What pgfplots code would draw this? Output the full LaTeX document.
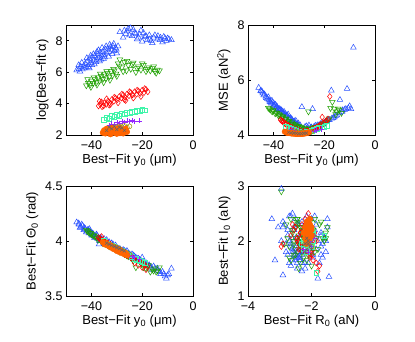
\documentclass[border=0pt]{standalone}
\usepackage{fontspec}
\setmainfont{Liberation Sans}
\usepackage{pgfplots}
\usepackage{pgfplotstable}
\pgfplotsset{compat=1.18}
\definecolor{cB}{RGB}{40,80,255}
\definecolor{cG}{RGB}{30,160,0}
\definecolor{cR}{RGB}{255,0,0}
\definecolor{cC}{RGB}{64,245,170}
\definecolor{cP}{RGB}{150,40,255}
\definecolor{cO}{RGB}{150,150,0}
\definecolor{cN}{RGB}{255,100,0}
\definecolor{cK}{RGB}{100,100,100}
% columns: y0, log alpha, MSE, Theta0, R0, I0
\pgfplotstableread{
y0 la mse th R I
-45.8 6.12 5.72 4.17 -2.90 2.25
-44.9 6.20 5.62 4.15 -3.15 1.65
-44.2 6.35 5.52 4.13 -2.70 2.45
-43.5 6.18 5.48 4.14 -2.95 2.95
-43.0 6.42 5.40 4.10 -2.90 1.38
-42.4 6.55 5.32 4.11 -2.50 2.05
-42.0 6.30 5.38 4.08 -2.85 2.30
-41.5 6.70 5.22 4.10 -2.55 1.75
-41.0 6.48 5.18 4.07 -3.25 2.40
-40.6 6.85 5.25 4.09 -2.65 1.95
-40.0 6.60 5.08 4.06 -2.75 2.20
-39.5 6.95 5.12 4.07 -2.45 1.60
-39.0 6.75 4.98 4.05 -2.35 2.10
-38.5 7.05 5.02 4.04 -2.60 1.85
-38.0 6.80 4.90 4.06 -2.30 2.35
-37.5 7.15 4.95 4.02 -2.50 1.70
-37.0 6.90 4.82 3.97 -2.70 2.00
-36.5 7.25 4.85 4.03 -2.20 1.50
-36.0 7.00 4.75 4.01 -2.45 1.80
-35.5 7.30 4.78 4.00 -2.55 2.25
-35.0 7.10 4.68 4.02 -2.35 1.65
-34.5 7.45 4.70 3.98 -2.40 1.90
-34.0 7.20 4.62 4.01 -2.30 2.15
-33.5 7.50 4.60 3.97 -2.50 1.75
-33.0 7.30 4.55 3.99 -2.20 1.85
-32.5 7.60 4.52 3.96 -2.60 2.05
-32.0 7.40 4.48 3.98 -2.45 1.70
-31.5 7.65 4.45 3.97 -2.35 1.95
-31.0 7.35 4.40 3.95 -2.25 1.80
-30.5 7.55 4.38 3.96 -2.50 1.65
-36.8 6.70 4.90 4.00 -2.65 1.55
-38.8 6.50 5.05 4.03 -2.90 2.35
-34.8 6.95 4.72 3.99 -2.15 2.20
-40.8 6.25 5.15 4.11 -2.80 1.80
-37.8 7.30 4.92 4.05 -2.40 2.30
-30.0 7.20 4.32 3.94 -2.30 1.75
-45.0 6.45 5.60 4.16 -2.75 2.10
-44.5 6.05 5.58 4.12 -2.60 1.80
-43.8 6.60 5.45 4.15 -3.05 2.25
-42.8 6.25 5.35 4.12 -2.70 1.60
-41.8 6.90 5.28 4.09 -2.45 2.30
-41.2 6.35 5.20 4.10 -2.95 2.00
-40.3 7.05 5.18 4.08 -2.55 1.85
-39.8 6.45 5.05 4.05 -2.65 2.45
-39.2 7.15 5.10 4.06 -2.40 1.70
-38.2 6.65 4.95 4.04 -2.80 1.95
-37.2 7.40 4.90 4.03 -2.35 2.05
-36.2 6.80 4.80 4.02 -2.60 1.65
-35.8 7.55 4.85 4.01 -2.50 2.40
-35.2 6.85 4.70 3.99 -2.75 1.75
-34.2 7.65 4.75 3.98 -2.40 1.80
-33.2 7.00 4.62 3.98 -2.55 2.20
-32.8 7.75 4.58 3.97 -2.30 1.60
-31.8 7.15 4.50 3.96 -2.65 1.90
-31.2 7.80 4.52 3.95 -2.40 1.70
-30.2 7.45 4.42 3.94 -2.55 1.80
-29.5 7.65 4.36 3.93 -2.45 1.95
-28.8 8.55 5.02 3.93 -2.10 2.35
-27.5 8.20 4.30 3.92 -2.00 2.40
-26.5 8.45 4.28 3.90 -2.20 1.60
-25.5 8.75 4.25 3.89 -1.90 2.20
-24.6 8.80 4.95 3.87 -2.30 1.45
-24.0 8.30 4.30 3.88 -2.05 2.00
-23.0 8.50 4.32 3.86 -1.85 1.85
-22.0 8.10 4.35 3.84 -2.15 2.45
-21.0 8.40 4.40 3.83 -1.70 2.15
-20.0 7.95 4.45 3.85 -1.95 1.70
-19.0 8.25 4.50 3.80 -2.20 2.30
-18.0 8.05 4.55 3.79 -1.60 2.05
-17.2 8.35 5.62 3.78 -1.50 2.40
-16.5 8.00 4.62 3.76 -1.80 1.32
-15.5 8.20 4.70 3.77 -1.55 2.00
-14.0 8.10 4.80 3.75 -1.75 1.60
-13.8 8.30 5.28 3.73 -1.90 2.10
-12.0 7.90 4.92 3.72 -1.65 1.95
-11.0 8.15 5.68 3.68 -2.60 2.50
-10.5 8.00 4.98 3.66 -1.60 2.05
-9.5 8.10 4.95 3.70 -1.50 2.25
-8.5 8.05 7.18 3.75 -1.45 1.35
-26.0 8.60 4.35 3.91 -2.35 1.70
-20.5 8.65 4.38 3.82 -2.10 1.60
-16.0 7.85 4.65 3.74 -2.45 1.50
-12.8 8.20 4.90 3.70 -1.70 1.90
-27.0 8.65 4.32 3.91 -2.25 2.20
-25.0 8.35 4.28 3.88 -1.95 1.75
-23.5 8.70 4.34 3.87 -2.10 2.30
-22.5 8.45 4.36 3.85 -1.80 2.00
-21.5 8.20 4.40 3.84 -2.30 1.80
-19.5 8.50 4.48 3.81 -1.90 2.45
-18.5 8.30 4.55 3.80 -1.70 1.75
-17.0 8.10 4.60 3.77 -2.00 2.20
-15.0 8.35 4.72 3.75 -1.65 1.70
-13.0 8.05 4.85 3.72 -1.85 2.30
-11.5 8.25 4.95 3.70 -1.55 1.80
-10.0 8.15 5.05 3.69 -1.70 2.10
}\tblB
\pgfplotstableread{
y0 la mse th R I
-42.0 5.15 4.98 4.10 -2.80 2.30
-41.2 5.30 4.92 4.08 -2.70 1.90
-40.5 5.20 4.85 4.07 -2.95 2.90
-40.0 5.45 4.90 4.06 -2.60 2.20
-39.3 5.30 4.78 4.05 -2.55 1.75
-38.6 5.55 4.80 4.04 -2.75 2.05
-38.0 5.35 4.70 4.03 -2.45 2.35
-37.4 5.65 4.72 4.01 -2.50 1.85
-36.8 5.45 4.62 4.02 -2.40 2.10
-36.2 5.75 4.65 4.00 -2.65 1.65
-35.5 5.55 4.55 3.98 -2.35 2.25
-35.0 5.85 4.58 4.00 -2.55 1.95
-34.3 5.60 4.48 3.97 -2.30 1.80
-33.7 5.95 4.50 3.98 -2.45 2.30
-33.0 5.70 4.42 3.95 -2.60 2.15
-32.3 6.05 4.40 3.96 -2.25 1.70
-31.7 5.80 4.35 3.94 -2.40 2.00
-31.0 6.10 4.33 3.95 -2.35 1.90
-30.3 5.90 4.30 3.92 -2.50 2.05
-29.5 6.55 4.28 3.92 -2.30 2.25
-28.8 6.80 4.25 3.90 -2.20 1.85
-28.0 6.30 4.22 3.91 -2.45 2.40
-27.0 6.65 4.20 3.88 -2.15 2.10
-26.2 6.10 4.85 3.87 -2.35 1.60
-25.5 6.45 4.22 3.86 -2.05 2.35
-24.5 6.20 4.25 3.85 -2.25 1.95
-23.5 6.60 4.28 3.82 -1.95 2.20
-22.5 6.00 4.30 3.76 -2.10 1.75
-21.5 6.35 4.35 3.83 -1.85 2.05
-20.5 6.15 4.40 3.80 -2.00 1.55
-19.5 6.45 4.48 3.76 -1.75 2.30
-18.5 6.05 4.55 3.75 -2.15 1.65
-17.5 6.30 4.98 3.78 -1.60 2.00
-16.8 6.10 5.20 3.72 -1.55 2.15
-16.0 6.25 4.95 3.74 -1.50 2.25
-15.0 6.05 4.85 3.75 -1.90 1.80
-14.0 6.15 4.90 3.73 -1.65 2.05
-13.2 6.10 4.80 3.76 -2.40 1.50
-41.5 5.55 4.95 4.09 -2.65 2.40
-40.2 5.05 4.88 4.07 -2.85 1.95
-39.0 5.65 4.82 4.05 -2.50 2.25
-37.8 5.20 4.75 4.03 -2.70 1.70
-36.5 5.90 4.68 4.01 -2.55 2.00
-35.2 5.35 4.60 3.99 -2.45 2.40
-34.0 6.05 4.52 3.98 -2.35 2.05
-32.7 5.50 4.45 3.96 -2.50 1.75
-31.3 6.20 4.38 3.94 -2.30 2.20
-30.0 5.75 4.32 3.93 -2.40 1.95
-29.0 6.40 4.30 3.92 -2.25 2.05
-27.5 6.05 4.25 3.89 -2.10 1.90
-26.0 6.70 4.22 3.87 -2.30 2.15
-24.0 6.50 4.28 3.84 -2.00 1.80
-22.0 6.25 4.32 3.83 -1.90 2.40
-20.0 6.55 4.42 3.79 -2.05 2.00
-18.0 6.20 4.60 3.76 -1.80 1.85
-15.5 6.35 4.75 3.73 -1.70 2.35
-14.5 5.95 4.95 3.72 -1.55 2.05
}\tblG
\pgfplotstableread{
y0 la mse th R I
-37.2 3.85 4.55 4.03 -2.95 1.90
-36.5 3.95 4.50 4.02 -2.90 1.95
-35.8 3.80 4.42 4.01 -2.55 2.20
-35.0 4.05 4.40 4.00 -2.45 2.05
-34.2 3.95 4.32 3.99 -2.35 2.15
-33.5 4.15 4.30 3.98 -2.50 2.25
-32.8 4.05 4.25 3.97 -2.40 1.95
-32.0 4.25 4.22 3.96 -2.30 2.10
-31.2 4.15 4.18 3.95 -2.20 2.30
-30.5 4.35 4.16 3.94 -2.35 1.85
-29.8 4.25 4.15 3.93 -2.45 2.00
-29.0 4.45 4.12 3.92 -2.25 2.20
-28.2 4.35 4.12 3.90 -2.15 2.35
-27.5 4.55 4.12 3.89 -2.30 1.90
-26.8 4.40 4.14 3.88 -2.10 2.05
-26.0 4.60 4.15 3.87 -2.05 2.40
-25.2 4.50 4.18 3.86 -2.20 1.80
-24.5 4.70 4.20 3.85 -1.95 2.15
-23.8 4.55 4.25 3.84 -2.00 1.75
-23.0 4.75 4.28 3.80 -1.90 2.00
-22.2 4.60 4.32 3.82 -2.05 1.70
-21.5 4.80 4.38 3.78 -1.85 1.60
-20.8 4.65 4.65 3.81 -1.95 1.85
-20.0 4.85 4.45 3.76 -1.80 1.45
-19.3 4.70 4.50 3.79 -1.75 1.55
-18.5 4.90 4.58 3.74 -1.90 2.15
-17.8 4.75 5.40 3.77 -2.05 1.75
-36.0 4.10 4.48 4.04 -2.60 2.30
-33.0 3.90 4.28 3.96 -2.20 2.40
-27.0 4.25 4.10 3.88 -2.10 2.50
-36.8 4.15 4.52 4.02 -2.65 2.10
-35.2 3.85 4.40 4.00 -2.40 1.85
-34.0 4.30 4.35 3.99 -2.30 2.30
-32.5 3.95 4.26 3.97 -2.45 2.05
-31.0 4.40 4.20 3.95 -2.15 1.95
-29.5 4.05 4.15 3.93 -2.35 2.15
-28.0 4.60 4.12 3.91 -2.20 2.05
-26.5 4.20 4.14 3.88 -2.00 1.95
-25.0 4.75 4.18 3.86 -2.15 2.25
-23.5 4.35 4.24 3.84 -1.95 1.90
-22.0 4.85 4.32 3.82 -2.10 1.80
-20.5 4.45 4.42 3.80 -1.85 2.00
-19.0 4.95 4.52 3.78 -1.95 1.65
}\tblR
\pgfplotstableread{
y0 la mse th R I
-35.0 2.98 4.30 4.00 -2.25 2.00
-34.0 3.10 4.25 3.98 -2.15 2.10
-33.0 3.05 4.22 3.97 -2.30 1.95
-32.0 3.20 4.18 3.96 -2.10 2.05
-31.0 3.15 4.15 3.95 -2.20 2.15
-30.0 3.28 4.12 3.93 -2.05 1.90
-29.0 3.25 4.10 3.92 -2.15 2.25
-28.0 3.35 4.10 3.91 -1.95 2.00
-27.0 3.32 4.12 3.89 -2.25 1.85
-26.0 3.42 4.12 3.88 -2.00 2.20
-25.0 3.40 4.15 3.87 -1.60 2.10
-24.0 3.50 4.18 3.86 -2.10 1.95
-23.0 3.48 4.22 3.84 -1.85 1.42
-22.0 3.55 4.25 3.83 -2.05 2.05
-21.0 3.52 4.28 3.82 -2.15 1.80
-20.0 3.60 4.30 3.81 -1.95 2.15
-19.0 3.58 4.35 3.80 -2.00 1.90
}\tblC
\pgfplotstableread{
y0 la mse th R I
-33.0 2.62 4.20 3.97 -2.20 1.95
-32.0 2.70 4.18 3.96 -2.10 2.05
-31.0 2.68 4.15 3.95 -2.25 1.85
-30.0 2.78 4.12 3.94 -2.05 2.00
-29.0 2.75 4.10 3.93 -2.15 2.10
-28.0 2.85 4.08 3.91 -2.00 1.90
-27.0 2.82 4.08 3.89 -2.20 2.15
-26.0 2.90 4.10 3.88 -2.10 1.80
-25.0 2.88 4.12 3.87 -1.95 2.05
-24.0 2.92 4.15 3.86 -2.05 1.95
-23.0 2.85 4.18 3.85 -2.15 2.00
-21.0 2.90 4.22 3.83 -1.90 2.10
}\tblP
\pgfplotstableread{
y0 la mse th R I
-32.0 2.40 4.15 3.96 -2.15 2.00
-31.0 2.50 4.12 3.95 -2.05 2.10
-30.0 2.45 4.10 3.94 -2.20 1.95
-29.0 2.55 4.08 3.93 -2.10 2.05
-28.0 2.50 4.08 3.91 -2.00 1.90
-27.0 2.58 4.08 3.90 -2.15 2.15
-26.0 2.48 4.10 3.89 -2.05 2.00
-25.0 2.55 4.12 3.88 -1.95 2.10
}\tblO
\pgfplotstableread{
y0 la mse th R I
-35.5 2.15 4.12 3.99 -2.20 2.05
-35.0 2.30 4.10 3.98 -2.15 2.20
-34.5 2.10 4.08 3.97 -2.10 2.30
-34.0 2.40 4.08 3.98 -2.05 2.10
-33.5 2.20 4.07 3.96 -2.20 2.25
-33.0 2.35 4.06 3.95 -2.15 2.00
-32.5 2.05 4.06 3.96 -2.10 2.15
-32.0 2.45 4.05 3.94 -2.00 2.25
-31.5 2.25 4.05 3.93 -2.15 2.35
-31.0 2.15 4.04 3.94 -2.10 2.10
-30.5 2.38 4.04 3.92 -2.05 2.05
-30.0 2.08 4.04 3.91 -2.20 2.15
-29.5 2.30 4.04 3.92 -2.10 2.20
-29.0 2.45 4.04 3.90 -2.05 2.30
-28.5 2.18 4.05 3.91 -2.15 1.95
-28.0 2.35 4.05 3.89 -2.00 2.10
-27.5 2.10 4.06 3.90 -2.10 2.25
-27.0 2.28 4.07 3.88 -2.15 2.00
-26.5 2.40 4.08 3.89 -2.05 2.15
-26.0 2.20 4.10 3.87 -2.10 2.05
-34.8 2.25 4.09 3.97 -2.25 2.15
-32.8 2.15 4.06 3.95 -2.05 2.40
-30.8 2.30 4.04 3.93 -2.15 2.28
-28.8 2.12 4.04 3.92 -2.00 2.20
}\tblN
\pgfplotstableread{
y0 la mse th R I
-34.0 2.30 4.10 3.98 -2.20 1.95
-33.0 2.50 4.08 3.97 -2.15 1.85
-32.0 2.40 4.07 3.96 -2.10 2.00
-31.0 2.55 4.06 3.95 -2.20 1.80
-30.0 2.35 4.05 3.94 -2.05 1.90
-29.0 2.50 4.05 3.93 -2.15 2.05
-28.0 2.45 4.06 3.92 -2.10 1.95
-27.0 2.30 4.07 3.91 -2.00 1.85
}\tblK
\pgfplotsset{
  panel/.style={scale only axis, width=127pt, height=110pt, anchor=south west,
    axis line style={line width=0.5pt}, tick align=inside, tick pos=both,
    major tick length=3pt, tick style={line width=0.5pt, black},
    tick label style={font=\fontsize{12.5}{14}\selectfont},
    label style={font=\fontsize{13}{15}\selectfont},
    xticklabel style={yshift=-2.5pt},
    xlabel style={yshift=3pt},
    clip=true},
  y0ax/.style={xmin=-50, xmax=0, xtick={-40,-20,0}, xticklabels={−40,−20,0},
    xlabel={Best−Fit y\textsubscript{0} (μm)}},
  sB/.style={only marks, mark=triangle, mark size=3.3pt, cB, mark options={line width=0.5pt}},
  sG/.style={only marks, mark=triangle, mark size=3.3pt, cG, mark options={rotate=180, line width=0.5pt}},
  sR/.style={only marks, mark=diamond, mark size=3pt, cR, mark options={line width=0.5pt}},
  sC/.style={only marks, mark=square, mark size=2.4pt, cC, mark options={line width=0.5pt}},
  sP/.style={only marks, mark=+, mark size=2.6pt, cP, mark options={line width=0.5pt}},
  sO/.style={only marks, mark=o, mark size=2.4pt, cO, mark options={line width=0.5pt}},
  sN/.style={only marks, mark=*, mark size=2.8pt, cN, mark options={line width=0.5pt, fill=cN}},
  sK/.style={only marks, mark=x, mark size=2.2pt, cK, mark options={line width=0.5pt}},
}
\newcommand{\allseries}[2]{%
  \addplot[sB] table[x=#1,y=#2]{\tblB};
  \addplot[sG] table[x=#1,y=#2]{\tblG};
  \addplot[sR] table[x=#1,y=#2]{\tblR};
  \addplot[sC] table[x=#1,y=#2]{\tblC};
  \addplot[sP] table[x=#1,y=#2]{\tblP};
  \addplot[sO] table[x=#1,y=#2]{\tblO};
  \addplot[sN] table[x=#1,y=#2]{\tblN};
  \addplot[sK] table[x=#1,y=#2]{\tblK};
}
\begin{document}
\begin{tikzpicture}[x=1pt,y=1pt]
\useasboundingbox (0,0) rectangle (415,341);
\begin{axis}[panel, y0ax, at={(66pt,206pt)},
  ymin=2, ymax=9, ytick={2,4,6,8}, yticklabels={2,4,6,8},
  ylabel={log(Best−fit α)}]
\allseries{y0}{la}
\end{axis}
\begin{axis}[panel, y0ax, at={(248pt,206pt)},
  ymin=4, ymax=8, ytick={4,6,8}, yticklabels={4,6,8},
  ylabel={MSE (aN\textsuperscript{2})}]
\allseries{y0}{mse}
\end{axis}
\begin{axis}[panel, y0ax, at={(66pt,45pt)},
  ymin=3.5, ymax=4.5, ytick={3.5,4,4.5}, yticklabels={3.5,4,4.5},
  ylabel={Best−Fit Θ\textsubscript{0} (rad)}]
\allseries{y0}{th}
\end{axis}
\begin{axis}[panel, at={(248pt,45pt)},
  xmin=-4, xmax=0, xtick={-4,-2,0}, xticklabels={−4,−2,0},
  ymin=1, ymax=3, ytick={1,2,3}, yticklabels={1,2,3},
  xlabel={Best−Fit R\textsubscript{0} (aN)},
  ylabel={Best−Fit I\textsubscript{0} (aN)}]
\allseries{R}{I}
\end{axis}
\end{tikzpicture}
\end{document}
